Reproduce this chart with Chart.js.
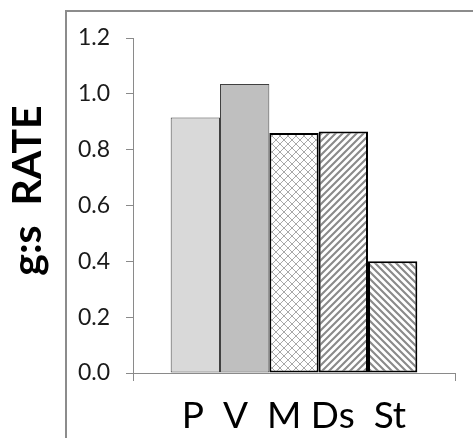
<!DOCTYPE html>
<html>
<head>
<meta charset="utf-8">
<style>
  html, body { margin: 0; padding: 0; background: #ffffff; }
  #wrap { width: 473px; height: 438px; position: relative; overflow: hidden; }
</style>
<script src="https://cdn.jsdelivr.net/npm/chart.js@4/dist/chart.umd.min.js"></script>
</head>
<body>
<div id="wrap"><canvas id="c" width="473" height="438"></canvas></div>
<script>
// ---- data ----
const seriesNames = ['P', 'V', 'M', 'Ds', 'St'];
const rateValues = [0.915, 1.035, 0.86, 0.865, 0.40];
const categoryLabels = ['P  V  M Ds  St'];
const yTickValues = [0, 0.2, 0.4, 0.6, 0.8, 1.0, 1.2];
const yAxisTitle = '   g:s  RATE';

// ---- fill patterns ----
function stripePattern(dir, color, bg) {
  const p = 7;
  const cv = document.createElement('canvas');
  cv.width = p; cv.height = p;
  const g = cv.getContext('2d');
  g.fillStyle = bg; g.fillRect(0, 0, p, p);
  g.strokeStyle = color; g.lineWidth = 2.1; g.lineCap = 'square';
  g.beginPath();
  if (dir === '/') {
    g.moveTo(-1, p + 1); g.lineTo(p + 1, -1);
    g.moveTo(-1, 1); g.lineTo(1, -1);
    g.moveTo(p - 1, p + 1); g.lineTo(p + 1, p - 1);
  } else {
    g.moveTo(-1, -1); g.lineTo(p + 1, p + 1);
    g.moveTo(-1, p - 1); g.lineTo(1, p + 1);
    g.moveTo(p - 1, -1); g.lineTo(p + 1, 1);
  }
  g.stroke();
  return g.createPattern(cv, 'repeat');
}
function crossPattern(color, bg) {
  const p = 8;
  const cv = document.createElement('canvas');
  cv.width = p; cv.height = p;
  const g = cv.getContext('2d');
  g.fillStyle = bg; g.fillRect(0, 0, p, p);
  g.strokeStyle = color; g.lineWidth = 1;
  g.beginPath();
  g.moveTo(-1, -1); g.lineTo(p + 1, p + 1);
  g.moveTo(-1, p + 1); g.lineTo(p + 1, -1);
  g.stroke();
  return g.createPattern(cv, 'repeat');
}

const fills = [
  '#d9d9d9',
  '#bfbfbf',
  crossPattern('#a8a8a8', '#ffffff'),
  stripePattern('/', '#8a8a8a', '#ffffff'),
  stripePattern('\\', '#8a8a8a', '#ffffff')
];
const borders = ['#404040', '#404040', '#000000', '#000000', '#000000'];
const borderWidths = [1, 1, 2, 2, 2];

const datasets = seriesNames.map((name, i) => ({
  label: name,
  data: [rateValues[i]],
  backgroundColor: fills[i],
  borderColor: borders[i],
  borderWidth: borderWidths[i],
  borderSkipped: false,
  categoryPercentage: 0.766,
  barPercentage: 1.0
}));

const framePlugin = {
  id: 'frame',
  beforeDraw(chart) {
    const ctx = chart.ctx;
    ctx.save();
    ctx.strokeStyle = '#8c8c8c';
    ctx.lineWidth = 2;
    ctx.beginPath();
    ctx.moveTo(66, 440);
    ctx.lineTo(66, 11);
    ctx.lineTo(480, 11);
    ctx.stroke();
    ctx.restore();
  }
};

const axisGray = '#8a8a8a';

new Chart(document.getElementById('c'), {
  type: 'bar',
  data: { labels: categoryLabels, datasets: datasets },
  plugins: [framePlugin],
  options: {
    responsive: false,
    devicePixelRatio: 1,
    animation: false,
    layout: { padding: { top: 38, right: 18, left: 0, bottom: 0 } },
    plugins: { legend: { display: false }, tooltip: { enabled: false } },
    scales: {
      x: {
        grid: { display: true, drawOnChartArea: false, offset: true, color: axisGray, lineWidth: 1, tickLength: 8 },
        border: { display: true, color: axisGray, width: 1 },
        ticks: { color: '#000000', font: { family: 'Lato', size: 37 }, padding: 13, maxRotation: 0, autoSkip: false },
        afterFit(scale) { scale.height = 65; }
      },
      y: {
        min: 0, max: 1.2,
        afterBuildTicks(scale) { scale.ticks = yTickValues.map(v => ({ value: v })); },
        grid: { display: true, drawOnChartArea: false, color: axisGray, lineWidth: 1, tickLength: 7 },
        border: { display: true, color: axisGray, width: 1 },
        ticks: {
          color: '#1a1a1a', font: { family: 'Lato', size: 23 }, padding: 16,
          callback: v => Number(v).toFixed(1)
        },
        title: {
          display: true, text: yAxisTitle, color: '#000000',
          font: { family: 'Lato', size: 41, weight: 'bold' },
          padding: { top: 3, bottom: 0 }
        },
        afterFit(scale) { scale.width = 133; }
      }
    }
  }
});
</script>
</body>
</html>
